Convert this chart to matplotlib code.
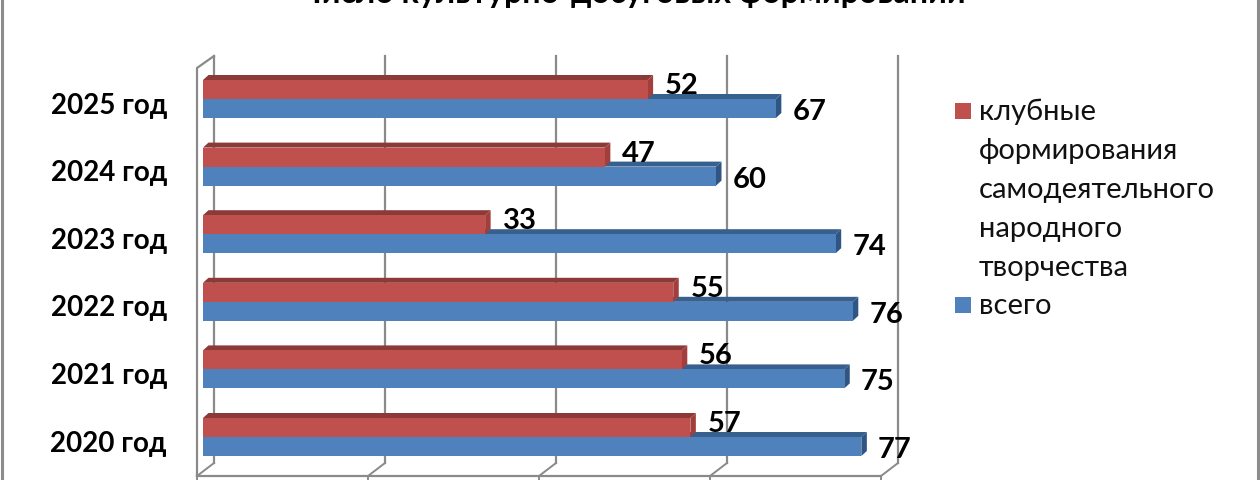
import matplotlib
matplotlib.use("Agg")
import matplotlib.pyplot as plt
from matplotlib.lines import Line2D
from matplotlib.patches import Polygon, Rectangle
from matplotlib.transforms import ScaledTranslation

plt.rcParams['font.family'] = ['Lato', 'Open Sans', 'DejaVu Sans']

# Data, bottom row first
years = ["2020 год", "2021 год", "2022 год", "2023 год", "2024 год", "2025 год"]
vsego = [77, 75, 76, 74, 60, 67]
klubnye = [57, 56, 55, 33, 47, 52]
x_ticks = [0, 20, 40, 60, 80]

title = "Число культурно-досуговых формирований"
legend_klub = "клубные\nформирования\nсамодеятельного\nнародного\nтворчества"
legend_vsego = "всего"

RED, RED_TOP, RED_SIDE = "#C0504D", "#8C3A38", "#A23F3C"
BLUE, BLUE_TOP, BLUE_SIDE = "#4F81BD", "#38608F", "#2F5585"
GRID = "#8A8A8A"

W, H = 1260, 480
fig = plt.figure(figsize=(W / 100, H / 100), dpi=100, facecolor="white")
ax = fig.add_axes([203 / W, 0, 684 / W, 1])
ax.set_xlim(0, 80)
# one category is 67.6 px, category 0 sits 437 px from the top
ax.set_ylim((437 - 480) / 67.6, 437 / 67.6)
for s in ax.spines.values():
    s.set_visible(False)

px_x = 80 / 684
px_y = 1 / 67.6  # data units per pixel on y
bar_h = 19 * px_y
dx, dy = 5.5 * px_x, 5 * px_y


def bar3d(y0, value, top, side):
    # the flat front goes through barh, top and side faces are added on it
    y1 = y0 + bar_h
    ax.add_patch(Polygon([(0, y1), (dx, y1 + dy), (value + dx, y1 + dy), (value, y1)],
                         facecolor=top, edgecolor="none", zorder=3))
    ax.add_patch(Polygon([(value, y0), (value + dx, y0 + dy), (value + dx, y1 + dy), (value, y1)],
                         facecolor=side, edgecolor="none", zorder=3))


# walls and gridlines
back = 11 * px_x
front = -6 * px_x
top_y = (437 - 56) / 67.6
wall_low = (437 - 463) / 67.6
floor_y = (437 - 476) / 67.6
for t in x_ticks:
    ax.add_line(Line2D([t + back, t + back], [wall_low, top_y], color=GRID, lw=1.6, zorder=1, clip_on=False))
    ax.add_line(Line2D([t + back, t + front], [wall_low, floor_y], color=GRID, lw=1.4, zorder=1, clip_on=False))
    ax.add_line(Line2D([t + front, t + front], [floor_y, floor_y - 5 * px_y], color=GRID, lw=1.4, zorder=1, clip_on=False))
ax.add_line(Line2D([back, front, front], [top_y, top_y - 12 * px_y, floor_y], color=GRID, lw=1.6, zorder=1, clip_on=False))
ax.add_line(Line2D([front, 80 + front], [floor_y, floor_y], color=GRID, lw=1.6, zorder=1, clip_on=False))

# series
for i in range(len(years)):
    bar3d(i - bar_h, vsego[i], BLUE_TOP, BLUE_SIDE)
for i in range(len(years)):
    bar3d(i, klubnye[i], RED_TOP, RED_SIDE)
ypos = list(range(len(years)))
ax.barh([y - bar_h / 2 for y in ypos], vsego, height=bar_h, color=BLUE, zorder=4)
ax.barh([y + bar_h / 2 for y in ypos], klubnye, height=bar_h, color=RED, zorder=4)

for y, v in zip(ypos, vsego):
    ax.annotate(str(v), (v, y - bar_h / 2), xytext=(12, -2.5), textcoords="offset points",
                fontsize=21, fontweight="bold", va="center", ha="left", color="black", zorder=6)
for y, v in zip(ypos, klubnye):
    ax.annotate(str(v), (v, y + bar_h / 2), xytext=(12.5, 2.5), textcoords="offset points",
                fontsize=21, fontweight="bold", va="center", ha="left", color="black", zorder=6)

# axes ticks
ax.set_xticks([])
ax.set_yticks(ypos)
ax.set_yticklabels(years, fontsize=20, fontweight="bold")
ax.tick_params(axis="y", length=0, pad=26)
shift = ScaledTranslation(0, -3 / 72, fig.dpi_scale_trans)
for lab in ax.get_yticklabels():
    lab.set_transform(lab.get_transform() + shift)

# title, cut by the top edge as in the picture
fig.text(633 / W, 1 - 3 / H, title, fontsize=23, fontweight="bold", ha="center", va="baseline", color="black")

# legend
fig.add_artist(Rectangle((955 / W, 1 - 119 / H), 16 / W, 16 / H, transform=fig.transFigure, facecolor=RED, edgecolor="none"))
fig.add_artist(Rectangle((955 / W, 1 - 313 / H), 16 / W, 16 / H, transform=fig.transFigure, facecolor=BLUE, edgecolor="none"))
fig.text(979 / W, 1 - 99 / H, legend_klub, fontsize=21, ha="left", va="top", linespacing=1.61, color="#111111")
fig.text(979 / W, 1 - 314 / H, legend_vsego, fontsize=21, ha="left", va="baseline", color="#111111")

# outer frame
fig.add_artist(Line2D([2 / W, 2 / W], [0, 1], color="#8C8C8C", lw=2.2))
fig.add_artist(Line2D([1258 / W, 1258 / W], [0, 1], color="#8C8C8C", lw=2.2))

fig.savefig("out.png", dpi=100)
